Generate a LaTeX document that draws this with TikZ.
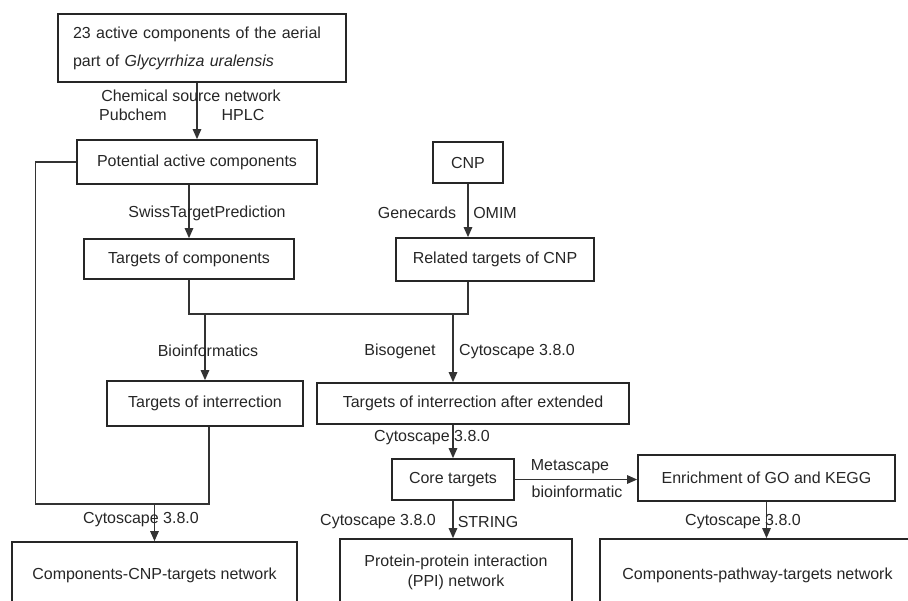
\documentclass[tikz,border=0pt]{standalone}
\usepackage{fontspec}
\setmainfont{Liberation Sans}
\usepackage{tikz}
\usetikzlibrary{arrows.meta,positioning,calc}

\begin{document}
\begin{tikzpicture}[x=0.02cm, y=-0.02cm,
    every node/.style={font=\fontsize{9.1}{11}\selectfont, text=black!85},
    box/.style={draw=black!85, line width=1pt, inner sep=0pt, align=center},
    link/.style={draw=black!80, line width=0.7pt},
    arr/.style={link, -{Triangle[length=0.2cm, width=0.17cm]}},
    lbl/.style={inner sep=0pt}]
    \useasboundingbox (0,0) rectangle (908,600);
    \clip (0,0) rectangle (908,600);

    % Sources
    \node[box, minimum width=5.76cm, minimum height=1.36cm, text width=5.16cm,
          align=left, font=\fontsize{9.1}{15.9}\selectfont] (src) at (202,48)
          {23 active components of the aerial\\part of \textit{Glycyrrhiza uralensis}};
    \node[box, minimum width=4.8cm, minimum height=0.88cm] (pot) at (197,162) {Potential active components};
    \node[box, minimum width=1.4cm, minimum height=0.82cm] (cnp) at (468,162.5) {CNP};

    % Targets
    \node[box, minimum width=4.2cm, minimum height=0.8cm] (tcomp) at (189,259) {Targets of components};
    \node[box, minimum width=3.96cm, minimum height=0.86cm] (rel) at (495,259.5) {Related targets of CNP};
    \node[box, minimum width=3.92cm, minimum height=0.9cm] (tint) at (205,403.5) {Targets of interrection};
    \node[box, minimum width=6.24cm, minimum height=0.82cm] (text) at (473,403.5) {Targets of interrection after extended};
    \node[box, minimum width=2.44cm, minimum height=0.82cm] (core) at (453,479.5) {Core targets};
    \node[box, minimum width=5.14cm, minimum height=0.92cm] (enr) at (766.5,478) {Enrichment of GO and KEGG};

    % Networks
    \node[box, minimum width=5.7cm, minimum height=1.32cm] (net1) at (154.5,575) {Components-CNP-targets network};
    \node[box, minimum width=4.64cm, minimum height=1.34cm] (ppi) at (456,572.5) {Protein-protein interaction\\(PPI) network};
    \node[box, minimum width=6.3cm, minimum height=1.44cm] (net2) at (757.5,575) {Components-pathway-targets network};

    % Junctions
    \coordinate (jm) at (0,314);
    \coordinate (jl) at (209,504);

    % Connectors
    \draw[arr] (src.south -| pot.north) -- (pot.north);
    \draw[arr] (pot.south -| tcomp.north) -- (tcomp.north);
    \draw[arr] (cnp.south) -- (cnp.south |- rel.north);
    \draw[link] (tcomp.south) |- (cnp |- jm) -- (cnp |- rel.south);
    \draw[arr] (tint.north |- jm) -- (tint.north);
    \draw[arr] (core |- jm) -- (core |- text.north);
    \draw[link] (pot.west) -- ++(-41,0) |- (jl) -- (jl |- tint.south);
    \draw[arr] (net1.north |- jl) -- (net1.north);
    \draw[arr] (core |- text.south) -- (core.north);
    \draw[arr] (core.east) -- (core.east -| enr.west);
    \draw[arr] (core.south) -- (core.south |- ppi.north);
    \draw[arr] (enr.south) -- (enr.south |- net2.north);

    % Labels
    \node[lbl] (l1) at (191,96) {Chemical source network};
    \node[lbl] (l2) at (133,115) {Pubchem};
    \node[lbl] (l3) at (243,115) {HPLC};
    \node[lbl] (l4) at (207,213) {SwissTargetPrediction};
    \node[lbl] (l5) at (417,213) {Genecards};
    \node[lbl] (l6) at (495,213) {OMIM};
    \node[lbl] (l7) at (208,351) {Bioinformatics};
    \node[lbl] (l8) at (400,351) {Bisogenet};
    \node[lbl] (l9) at (517,352) {Cytoscape 3.8.0};
    \node[lbl] (l10) at (432,438) {Cytoscape 3.8.0};
    \node[lbl] (l11) at (570,467) {Metascape};
    \node[lbl] (l12) at (577,492) {bioinformatic};
    \node[lbl] (l13) at (378,522) {Cytoscape 3.8.0};
    \node[lbl] (l14) at (488,522) {STRING};
    \node[lbl] (l15) at (743,522) {Cytoscape 3.8.0};
    \node[lbl] (l16) at (141,520) {Cytoscape 3.8.0};
\end{tikzpicture}
\end{document}
